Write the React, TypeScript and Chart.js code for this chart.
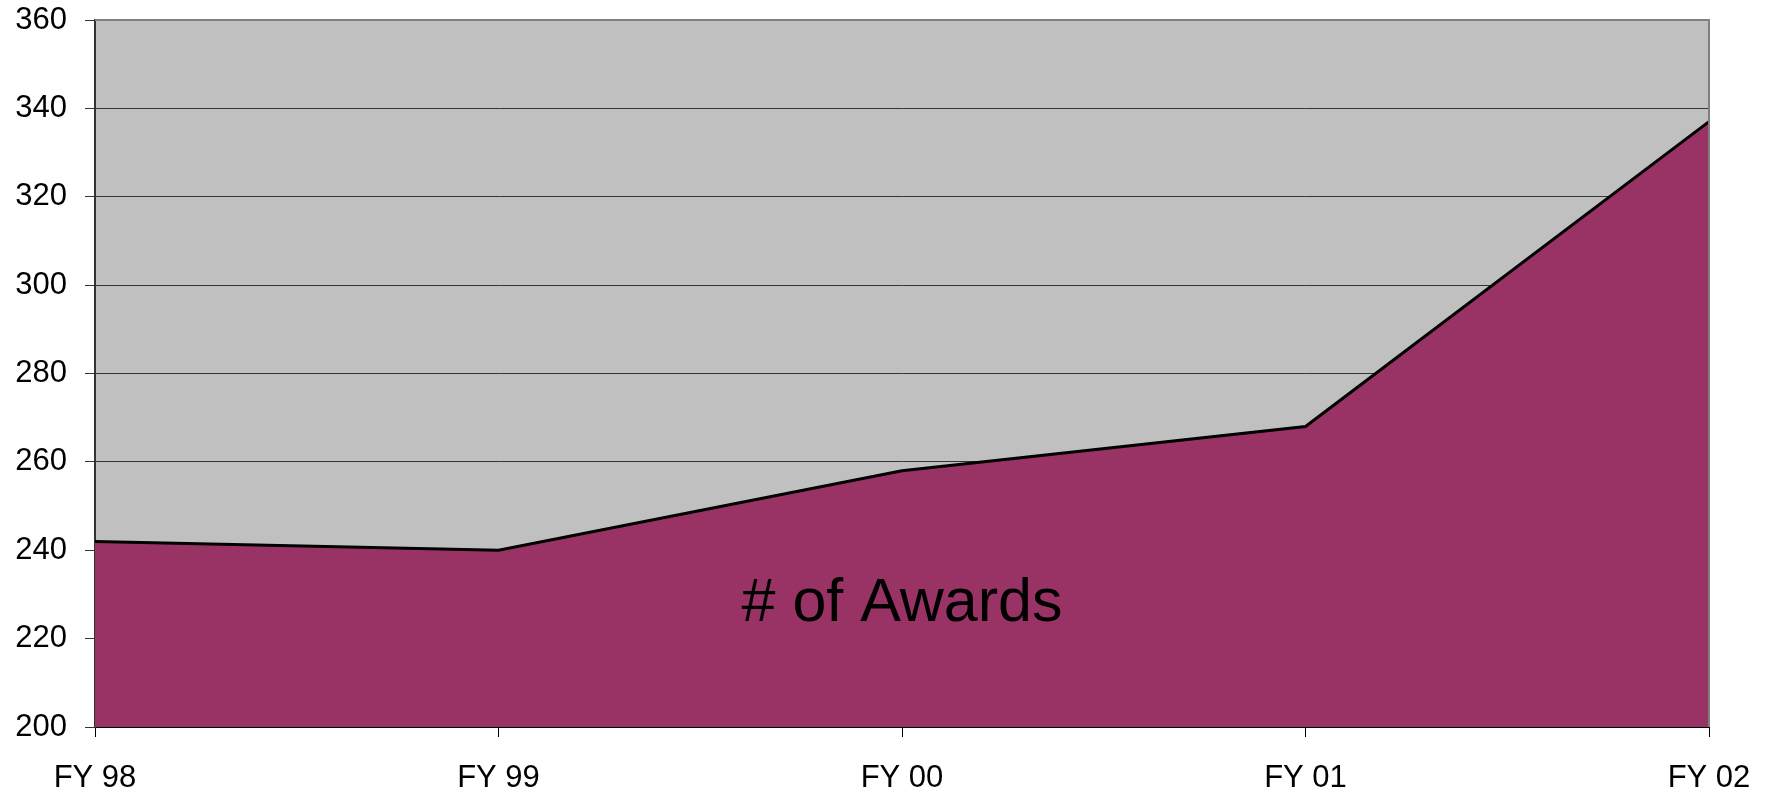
import React, { useEffect, useRef } from "react";
import { Chart, registerables } from "chart.js";

Chart.register(...registerables);

const categories = ["FY 98", "FY 99", "FY 00", "FY 01", "FY 02"];
const awards = [242, 240, 258, 268, 337];
const seriesLabel = "# of Awards";
const labelCategoryIndex = 2;
const labelValue = 227.8;
const yMin = 200;
const yMax = 360;
const yStep = 20;

const FONT = "'Liberation Sans', Arial, sans-serif";

const plotPlugin = {
  id: "plotDecor",
  beforeDraw(chart: any) {
    const { ctx, chartArea } = chart;
    ctx.save();
    ctx.fillStyle = "#C0C0C0";
    ctx.fillRect(chartArea.left, chartArea.top, chartArea.right - chartArea.left, chartArea.bottom - chartArea.top);
    ctx.restore();
  },
  afterDraw(chart: any) {
    const { ctx, chartArea, scales } = chart;
    ctx.save();
    ctx.strokeStyle = "#808080";
    ctx.lineWidth = 2;
    ctx.beginPath();
    ctx.moveTo(chartArea.left, chartArea.top);
    ctx.lineTo(chartArea.right, chartArea.top);
    ctx.lineTo(chartArea.right, chartArea.bottom);
    ctx.stroke();
    const x = scales.x.getPixelForValue(labelCategoryIndex);
    const y = scales.y.getPixelForValue(labelValue);
    ctx.fillStyle = "#000000";
    ctx.font = `61px ${FONT}`;
    ctx.textAlign = "center";
    ctx.textBaseline = "middle";
    ctx.fillText(seriesLabel, x, y);
    ctx.restore();
  },
};

export default function App() {
  const ref = useRef<HTMLCanvasElement>(null);
  useEffect(() => {
    document.body.style.margin = "0";
    const chart = new Chart(ref.current!, {
      type: "line",
      data: {
        labels: categories,
        datasets: [
          {
            label: seriesLabel,
            data: awards,
            backgroundColor: "#993366",
            borderColor: "#000000",
            borderWidth: 3,
            fill: "start",
            pointRadius: 0,
            tension: 0,
          },
        ],
      },
      options: {
        animation: false,
        responsive: false,
        layout: { padding: { top: 20, right: 60, left: 0, bottom: 0 } },
        plugins: { legend: { display: false }, tooltip: { enabled: false } },
        scales: {
          x: {
            offset: false,
            grid: { drawOnChartArea: false, drawTicks: true, tickLength: 10, color: "#000000", lineWidth: 1 },
            border: { display: true, color: "#000000", width: 2 },
            ticks: { color: "#000000", font: { family: FONT, size: 31 }, padding: 23, maxRotation: 0, autoSkip: false },
            afterFit(scale: any) {
              scale.height = 74;
              scale.paddingLeft = 0;
              scale.paddingRight = 0;
            },
          },
          y: {
            min: yMin,
            max: yMax,
            grid: { color: "#333333", lineWidth: 1, drawTicks: true, tickLength: 10 },
            border: { display: true, color: "#333333", width: 2 },
            ticks: { stepSize: yStep, color: "#000000", font: { family: FONT, size: 31 }, padding: 18 },
            afterFit(scale: any) {
              scale.width = 95;
              scale.paddingTop = 0;
              scale.paddingBottom = 0;
            },
          },
        },
      },
      plugins: [plotPlugin],
    });
    return () => chart.destroy();
  }, []);
  return <canvas ref={ref} width={1769} height={801} style={{ display: "block" }} />;
}
